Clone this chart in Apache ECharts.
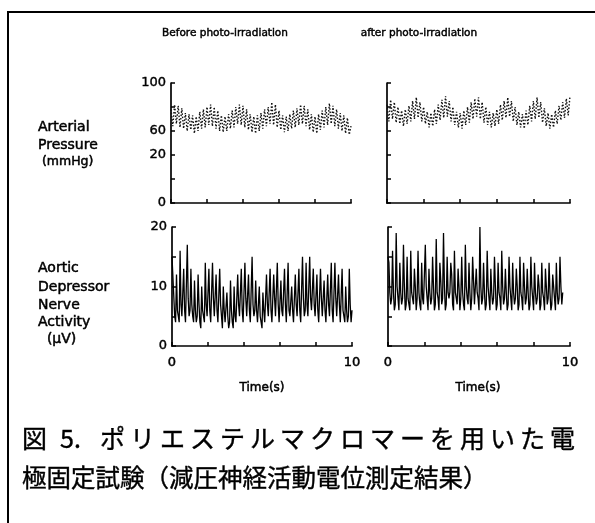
<!DOCTYPE html>
<html>
<head>
<meta charset="utf-8">
<script src="https://cdn.jsdelivr.net/npm/echarts@6/dist/echarts.min.js"></script>
<style>
html,body{margin:0;padding:0;background:#fff;}
#chart{width:595px;height:523px;}
</style>
</head>
<body>
<div id="chart"></div>
<script>
// ---- data ----
const panelTitles = ['Before photo-irradiation', 'after photo-irradiation'];
const pressureLabel = ['Arterial', 'Pressure', ' (mmHg)'];
const nerveLabel = ['Aortic', 'Depressor', 'Nerve', 'Activity', '  (\u03bcV)'];
const timeLabel = 'Time(s)';
const pressureTickLabels = {0: '0', 40: '20', 60: '60', 100: '100'};
const nerveTickLabels = {0: '0', 10: '10', 20: '20'};
const timeTickLabels = {0: '0', 10: '10'};
const captionLine1 = ['図', '5.', 'ポ','リ','エ','ス','テ','ル','マ','ク','ロ','マ','ー','を','用','い','た','電'];
const captionLine2 = '極固定試験（減圧神経活動電位測定結果）';

const pressureStep = 0.1;   // s
const nerveStep = 0.05;     // s

const pressureBefore = [
  78,64,82,66,81,63,79,62,75,60,
  74,61,73,58,72,60,76,62,78,63,
  80,65,82,64,80,62,77,60,73,59,
  72,60,74,62,77,63,80,66,82,65,
  81,63,78,61,74,59,72,58,73,60,
  75,62,78,64,80,66,84,65,82,63,
  77,61,73,59,72,60,74,62,77,63,
  79,65,82,66,81,64,78,61,74,59,
  72,58,74,61,77,63,80,65,83,66,
  81,64,78,62,75,60,73,58,71,57,64
];
const pressureAfter = [
  82,68,86,70,84,67,80,66,77,64,
  78,66,81,68,85,70,88,71,84,68,
  80,66,76,63,75,64,78,66,82,69,
  86,71,89,72,85,68,80,65,76,63,
  75,62,77,65,80,67,84,70,87,72,
  88,70,84,67,80,65,76,63,75,64,
  78,66,82,69,85,71,88,72,85,68,
  80,65,76,63,74,62,77,65,81,68,
  85,70,88,71,84,67,79,64,75,62,
  74,63,77,66,81,69,84,71,87,73,89
];
const nerveBefore = [
  15,15,15,5,  4,12,6,5,  4,16,7,5,  5,13,6,4,  4,17,8,5,
  6,13,7,5,  4,11,6,4,  5,12,7,4,  3,10,6,5,  4,14,7,5,
  5,13,6,4,  4,14,8,5,  5,12,6,4,  4,13,7,5,  3,10,6,4,
  4,9,5,3,  4,11,6,4,  3,10,5,4,  4,12,7,5,  5,13,6,4,
  4,14,8,5,  5,12,6,4,  4,15,7,5,  6,11,6,4,  4,10,5,4,
  3,9,6,4,  4,12,7,5,  5,13,6,4,  4,12,8,5,  5,14,7,4,
  4,11,6,5,  5,13,7,4,  4,14,6,5,  5,10,6,4,  4,12,7,5,
  5,13,6,4,  4,15,8,5,  6,14,7,5,  5,15,8,6,  6,13,7,5,
  5,12,6,4,  4,13,8,5,  5,11,6,4,  4,12,7,5,  5,14,6,4,
  4,14,8,5,  5,12,7,4,  4,13,6,5,  4,10,6,4,  5,13,7,4,
  6
];
const nerveAfter = [
  15,14,9,7,  8,16,9,6,  7,19,10,8,  6,14,9,7,  8,17,10,6,
  7,15,8,7,  6,16,9,8,  7,13,10,6,  8,16,9,7,  6,14,8,7,
  7,17,10,8,  6,13,9,7,  8,15,10,6,  7,18,9,8,  6,14,11,7,
  8,19,10,6,  7,15,9,8,  9,14,12,7,  6,16,9,8,  7,13,10,6,
  8,15,9,7,  6,17,10,8,  7,14,9,6,  8,15,11,7,  7,13,9,8,
  6,20,10,7,  8,14,9,6,  7,16,10,8,  6,13,9,7,  8,15,10,6,
  7,14,9,8,  6,16,10,7,  8,13,9,6,  7,15,10,8,  6,14,9,7,
  8,13,10,6,  7,15,9,8,  6,14,10,7,  8,13,9,6,  7,15,10,8,
  6,14,9,7,  8,12,10,6,  7,14,9,8,  6,13,10,7,  8,14,9,6,
  7,12,10,8,  6,14,9,7,  8,15,10,7,
  9
];

// ---- build ----
function toPairs(arr, step) {
  return arr.map((v, i) => [+(i * step).toFixed(3), v]);
}

const FONT = 'DejaVu Sans, Liberation Sans, sans-serif';
const axisLine = {show: true, lineStyle: {color: '#000', width: 1.7}};
const axisTick = {show: true, inside: true, length: 4, lineStyle: {color: '#000', width: 1.5}};

const grids = [
  {left: 171, top: 83, width: 180, height: 120},
  {left: 387, top: 83, width: 183, height: 120},
  {left: 172, top: 227, width: 180, height: 119},
  {left: 388, top: 227, width: 182, height: 119}
];

function xAxisFor(i, showLabels) {
  return {
    type: 'value', gridIndex: i, min: 0, max: 10, interval: 2,
    axisLine, axisTick, splitLine: {show: false},
    axisLabel: {
      show: showLabels, margin: 10, color: '#000', fontSize: 13, fontFamily: FONT,
      textBorderColor: '#000', textBorderWidth: 0.5,
      formatter: v => (timeTickLabels[v] !== undefined ? timeTickLabels[v] : '')
    }
  };
}
function yAxisFor(i, max, interval, labels) {
  return {
    type: 'value', gridIndex: i, min: 0, max: max, interval: interval,
    axisLine, axisTick, splitLine: {show: false},
    axisLabel: {
      show: !!labels, margin: 5, color: '#000', fontSize: 13, fontFamily: FONT,
      textBorderColor: '#000', textBorderWidth: 0.4,
      formatter: v => (labels && labels[v] !== undefined ? labels[v] : '')
    }
  };
}

const pressureLine = {color: '#111', width: 1.4, type: [1.5, 1.8]};
const nerveLine = {color: '#000', width: 1.3};

function txt(x, y, text, font, align, strokeW) {
  return {type: 'text', x: x, y: y, style: {text: text, font: font, fill: '#000',
    stroke: '#000', lineWidth: strokeW || 0, align: align || 'left', verticalAlign: 'middle'}};
}

const graphics = [];
// border
graphics.push({type: 'polyline', shape: {points: [[8, 523], [8, 12], [595, 12]]},
  style: {stroke: '#000', lineWidth: 2, fill: null}});
// panel titles
graphics.push(txt(225, 33, panelTitles[0], '10.5px ' + FONT, 'center', 0.45));
graphics.push(txt(419, 33, panelTitles[1], '10.5px ' + FONT, 'center', 0.45));
// row labels
const plY = [127, 145, 162];
pressureLabel.forEach((t, k) => graphics.push(txt(38, plY[k], t, (k === 2 ? '12.5px ' : '14px ') + FONT, 'left', 0.5)));
const nlY = [268, 287, 305, 322, 339];
nerveLabel.forEach((t, k) => graphics.push(txt(38, nlY[k], t, '14px ' + FONT, 'left', 0.5)));
// time labels
graphics.push(txt(262, 388, timeLabel, '12px ' + FONT, 'center', 0.5));
graphics.push(txt(478, 388, timeLabel, '12px ' + FONT, 'center', 0.5));
// caption line 1 (spaced characters)
const CJK = '"Noto Sans CJK JP", sans-serif';
graphics.push(txt(22, 438, captionLine1[0], '25px ' + CJK, 'left', 0.4));
graphics.push(txt(60, 438, captionLine1[1], '25px ' + CJK, 'left', 0.4));
captionLine1.slice(2).forEach((c, k) => graphics.push(txt(100 + k * 30, 438, c, '25px ' + CJK, 'left', 0.4)));
graphics.push(txt(22, 478, captionLine2, '24.5px ' + CJK, 'left', 0.4));

const option = {
  animation: false,
  backgroundColor: '#fff',
  grid: grids,
  xAxis: [xAxisFor(0, false), xAxisFor(1, false), xAxisFor(2, true), xAxisFor(3, true)],
  yAxis: [
    yAxisFor(0, 100, 20, pressureTickLabels),
    yAxisFor(1, 100, 20, null),
    yAxisFor(2, 20, 5, nerveTickLabels),
    yAxisFor(3, 20, 5, null)
  ],
  series: [
    {type: 'line', xAxisIndex: 0, yAxisIndex: 0, data: toPairs(pressureBefore, pressureStep), showSymbol: false, symbol: 'none', lineStyle: pressureLine},
    {type: 'line', xAxisIndex: 1, yAxisIndex: 1, data: toPairs(pressureAfter, pressureStep), showSymbol: false, symbol: 'none', lineStyle: pressureLine},
    {type: 'line', xAxisIndex: 2, yAxisIndex: 2, data: toPairs(nerveBefore, nerveStep), showSymbol: false, symbol: 'none', lineStyle: nerveLine},
    {type: 'line', xAxisIndex: 3, yAxisIndex: 3, data: toPairs(nerveAfter, nerveStep), showSymbol: false, symbol: 'none', lineStyle: nerveLine}
  ],
  graphic: graphics
};

const chart = echarts.init(document.getElementById('chart'), null, {renderer: 'canvas'});
chart.setOption(option);
</script>
</body>
</html>
